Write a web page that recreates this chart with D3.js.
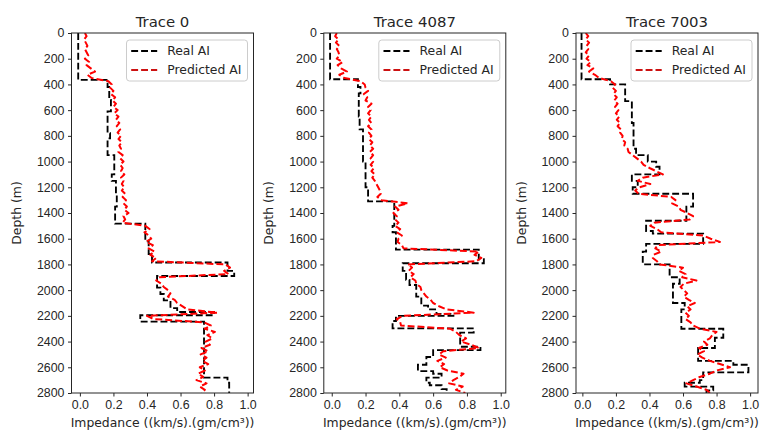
<!DOCTYPE html>
<html>
<head>
<meta charset="utf-8">
<script src="https://cdn.jsdelivr.net/npm/d3@7"></script>
<style>
  body { margin: 0; background: #fff; }
  svg { display: block; font-family: "DejaVu Sans", sans-serif; }
  .tick text { font-size: 12.4px; fill: #262626; }
  .tick line, .domain { stroke: #262626; }
</style>
</head>
<body>
<div class="chart-container"></div>
<script>
var width = 761, height = 435;

var traceNames = ['Trace 0', 'Trace 4087', 'Trace 7003'];
var depthTicks = [0, 200, 400, 600, 800, 1000, 1200, 1400, 1600, 1800, 2000, 2200, 2400, 2600, 2800];
var impTicks = [0.0, 0.2, 0.4, 0.6, 0.8, 1.0];

// sample depths of the predicted trace (m)
var predDepth = [0, 25, 50, 75, 100, 125, 150, 175, 200, 225, 250, 275, 300, 325, 350, 375,
  400, 425, 450, 475, 500, 525, 550, 575, 600, 625, 650, 675, 700, 725, 750, 775,
  800, 825, 850, 875, 900, 925, 950, 975, 1000, 1025, 1050, 1075, 1100, 1125, 1150, 1175,
  1200, 1225, 1250, 1275, 1300, 1325, 1350, 1375, 1400, 1425, 1450, 1475, 1500, 1525, 1550, 1575,
  1600, 1625, 1650, 1675, 1700, 1725, 1750, 1775, 1800, 1825, 1850, 1875, 1900, 1925, 1950, 1975,
  2000, 2025, 2050, 2075, 2100, 2125, 2150, 2175, 2200, 2225, 2250, 2275, 2300, 2325, 2350, 2375,
  2400, 2425, 2450, 2475, 2500, 2525, 2550, 2575, 2600, 2625, 2650, 2675, 2700, 2725, 2750, 2775, 2800];

var pred0 = [0.03, 0.04, 0.025, 0.035, 0.045, 0.03, 0.04, 0.05, 0.03, 0.055, 0.04, 0.065, 0.09, 0.045, 0.07,
  0.17, 0.19, 0.18, 0.2, 0.185, 0.21, 0.195, 0.215, 0.2, 0.225, 0.205, 0.23, 0.215, 0.235, 0.22, 0.24, 0.225,
  0.245, 0.23, 0.25, 0.235, 0.245, 0.23, 0.255, 0.24, 0.26, 0.24, 0.255, 0.245, 0.265, 0.245, 0.26, 0.25,
  0.265, 0.25, 0.27, 0.255, 0.275, 0.26, 0.28, 0.265, 0.29, 0.26, 0.27, 0.255,
  0.39, 0.415, 0.385, 0.41, 0.425, 0.395, 0.435, 0.41, 0.445, 0.42, 0.455, 0.43,
  0.87, 0.895, 0.86, 0.885,
  0.47, 0.455, 0.485, 0.5, 0.525, 0.54, 0.525, 0.565, 0.58, 0.61, 0.64,
  0.82, 0.4, 0.44,
  0.74, 0.78, 0.745, 0.805, 0.76, 0.79, 0.75, 0.775, 0.725, 0.765, 0.72, 0.755, 0.73, 0.765, 0.715, 0.745,
  0.705, 0.735, 0.695, 0.755, 0.715, 0.745, 0.725];

var pred4087 = [0.03, 0.02, 0.04, 0.025, 0.045, 0.03, 0.04, 0.045, 0.03, 0.065, 0.035, 0.055, 0.09, 0.045, 0.075,
  0.17, 0.195, 0.2, 0.215, 0.19, 0.21, 0.2, 0.235, 0.215, 0.23, 0.215, 0.235, 0.22, 0.235, 0.215, 0.235, 0.22,
  0.235, 0.22, 0.24, 0.225, 0.245, 0.225, 0.245, 0.23, 0.245, 0.23, 0.25, 0.235, 0.255, 0.24, 0.255, 0.265,
  0.275, 0.285, 0.29, 0.27, 0.295,
  0.45, 0.375, 0.395, 0.365, 0.385, 0.375, 0.395, 0.375, 0.405, 0.385, 0.415, 0.395, 0.39, 0.415, 0.425,
  0.87, 0.845, 0.885, 0.855,
  0.45, 0.475, 0.455, 0.485, 0.465, 0.495, 0.5, 0.525, 0.53, 0.545, 0.56, 0.585, 0.6, 0.635, 0.68,
  0.84, 0.42, 0.385, 0.405, 0.41,
  0.7, 0.735, 0.755, 0.795, 0.765, 0.825, 0.87, 0.66, 0.635, 0.675, 0.625, 0.665, 0.64, 0.685, 0.78, 0.755,
  0.72, 0.695, 0.775, 0.735, 0.79];

var pred7003 = [0.02, 0.035, 0.02, 0.04, 0.025, 0.035, 0.02, 0.04, 0.025, 0.05, 0.03, 0.065, 0.04, 0.075, 0.1,
  0.17, 0.195, 0.18, 0.2, 0.185, 0.205, 0.19, 0.21, 0.195, 0.215, 0.2, 0.22, 0.205, 0.225, 0.21, 0.23, 0.225,
  0.24, 0.235, 0.255, 0.25, 0.27, 0.275, 0.3, 0.325, 0.35, 0.365, 0.4, 0.44, 0.48, 0.36, 0.33, 0.405, 0.34, 0.315, 0.335,
  0.53, 0.555, 0.535, 0.575, 0.585, 0.625, 0.66, 0.64,
  0.43, 0.405, 0.445, 0.47,
  0.72, 0.765, 0.82,
  0.45, 0.435, 0.47, 0.425, 0.42, 0.445, 0.46,
  0.6, 0.575, 0.615, 0.595, 0.68, 0.605, 0.585, 0.605, 0.625, 0.605, 0.635, 0.67, 0.625, 0.645, 0.615, 0.635,
  0.615, 0.645, 0.66, 0.7,
  0.8, 0.775, 0.76, 0.725, 0.745, 0.695, 0.725, 0.685, 0.715, 0.76, 0.82, 0.88, 0.8, 0.76, 0.7, 0.66,
  0.62, 0.68, 0.74, 0.76];

// real AI as layers: top depth (m) and impedance
var realTop0 = [0, 365, 420, 520, 610, 780, 820, 950, 1100, 1150, 1250, 1350, 1483, 1620, 1720, 1785, 1850, 1890,
  1980, 2030, 2080, 2140, 2170, 2195, 2245, 2680, 2720];
var realVal0 = [-0.01, 0.165, 0.175, 0.185, 0.165, 0.18, 0.165, 0.205, 0.19, 0.215, 0.22, 0.21, 0.39, 0.41, 0.43, 0.88, 0.92, 0.46,
  0.48, 0.5, 0.54, 0.58, 0.8, 0.36, 0.74, 0.88, 0.89];

var realTop4087 = [0, 360, 420, 470, 650, 750, 1000, 1200, 1310, 1500, 1550, 1685, 1760, 1791, 1850, 1920, 1960,
  2050, 2120, 2150, 2185, 2200, 2240, 2297, 2330, 2440, 2466, 2520, 2580, 2630, 2650, 2680, 2720, 2740, 2770];
var realVal4087 = [-0.01, 0.155, 0.17, 0.16, 0.165, 0.185, 0.2, 0.215, 0.37, 0.36, 0.38, 0.87, 0.9, 0.42, 0.44, 0.46, 0.5,
  0.53, 0.57, 0.62, 0.72, 0.38, 0.36, 0.84, 0.76, 0.88, 0.6, 0.56, 0.51, 0.6, 0.65, 0.56, 0.58, 0.65, 0.68];

var realTop7003 = [0, 360, 400, 530, 700, 900, 950, 1000, 1040, 1100, 1150, 1200, 1250, 1350, 1460, 1540, 1560,
  1640, 1700, 1800, 1900, 1950, 2100, 2150, 2300, 2370, 2450, 2550, 2580, 2640, 2700, 2720, 2750, 2780];
var realVal7003 = [-0.005, 0.165, 0.255, 0.295, 0.305, 0.32, 0.39, 0.44, 0.46, 0.295, 0.33, 0.3, 0.66, 0.62, 0.38, 0.42, 0.72,
  0.38, 0.36, 0.52, 0.58, 0.54, 0.61, 0.59, 0.84, 0.79, 0.69, 0.9, 0.99, 0.72, 0.7, 0.61, 0.78, 0.74];

var maxDepth = 2800;

var panels = [
  {name: traceNames[0], pred: pred0, top: realTop0, val: realVal0, left: 71.5, xDom: [-0.05, 1.035]},
  {name: traceNames[1], pred: pred4087, top: realTop4087, val: realVal4087, left: 323.8, xDom: [-0.047, 1.03]},
  {name: traceNames[2], pred: pred7003, top: realTop7003, val: realVal7003, left: 576, xDom: [-0.038, 1.047]}
];
var axTop = 33, axW = 182, axH = 360;
var lw = 1.86, dash = '6.9,3';

const svg = d3.select('.chart-container')
    .append('svg')
    .attr('width', width)
    .attr('height', height);

var y = d3.scaleLinear().domain([0, maxDepth]).range([0, axH]);

panels.forEach(function(p, k) {
    var x = d3.scaleLinear().domain(p.xDom).range([0, axW]);
    var g = svg.append('g').attr('transform', `translate(${p.left},${axTop})`);

    g.append('clipPath').attr('id', 'clip' + k)
        .append('rect').attr('width', axW).attr('height', axH);

    // real AI: step path built from layers
    var realPts = [];
    p.top.forEach(function(t, i) {
        var bottom = i < p.top.length - 1 ? p.top[i + 1] : maxDepth;
        realPts.push([p.val[i], t]);
        realPts.push([p.val[i], bottom]);
    });
    var line = d3.line().x(d => x(d[0])).y(d => y(d[1]));

    var plot = g.append('g').attr('clip-path', `url(#clip${k})`);
    plot.append('path')
        .attr('d', line(realPts))
        .attr('fill', 'none')
        .attr('stroke', '#000')
        .attr('stroke-width', lw)
        .attr('stroke-dasharray', dash);
    plot.append('path')
        .attr('d', line(p.pred.map((v, i) => [v, predDepth[i]])))
        .attr('fill', 'none')
        .attr('stroke', '#ff0000')
        .attr('stroke-width', 2)
        .attr('stroke-dasharray', dash)
        .attr('stroke-linejoin', 'round');

    // axes
    g.append('g')
        .attr('transform', `translate(0,${axH})`)
        .call(d3.axisBottom(x).tickValues(impTicks).tickFormat(d3.format('.1f')).tickSizeInner(3.5).tickSizeOuter(0).tickPadding(3.5))
        .call(a => a.select('.domain').remove());
    g.append('g')
        .call(d3.axisLeft(y).tickValues(depthTicks).tickFormat(d3.format('d')).tickSizeInner(3.5).tickSizeOuter(0).tickPadding(3.5))
        .call(a => a.select('.domain').remove());
    g.selectAll('.tick text').attr('font-family', null).attr('font-size', null);

    g.append('rect')
        .attr('width', axW).attr('height', axH)
        .attr('fill', 'none').attr('stroke', '#262626').attr('stroke-width', 1);

    g.append('text')
        .attr('x', axW / 2).attr('y', -6.3)
        .attr('text-anchor', 'middle')
        .style('font-size', '14.9px').attr('fill', '#262626')
        .text(p.name);
    g.append('text')
        .attr('x', axW / 2).attr('y', axH + 34)
        .attr('text-anchor', 'middle')
        .style('font-size', '12.4px').attr('fill', '#262626')
        .text('Impedance ((km/s).(gm/cm³))');
    g.append('text')
        .attr('transform', `translate(${-50.5},${axH / 2}) rotate(-90)`)
        .attr('text-anchor', 'middle')
        .style('font-size', '12.4px').attr('fill', '#262626')
        .text('Depth (m)');

    // legend
    var lg = g.append('g').attr('transform', `translate(${axW - 127},7)`);
    lg.append('rect')
        .attr('width', 121).attr('height', 41).attr('rx', 3)
        .attr('fill', '#fff').attr('fill-opacity', 0.8)
        .attr('stroke', '#cccccc').attr('stroke-width', 1);
    [['Real AI', '#000'], ['Predicted AI', '#cc1111']].forEach(function(e, i) {
        var cy = 11 + i * 19;
        lg.append('line')
            .attr('x1', 4.7).attr('x2', 30.7).attr('y1', cy).attr('y2', cy)
            .attr('stroke', e[1]).attr('stroke-width', lw).attr('stroke-dasharray', dash);
        lg.append('text')
            .attr('x', 40.7).attr('y', cy + 4.4)
            .style('font-size', '12.4px').attr('fill', '#262626')
            .text(e[0]);
    });
});
</script>
</body>
</html>
